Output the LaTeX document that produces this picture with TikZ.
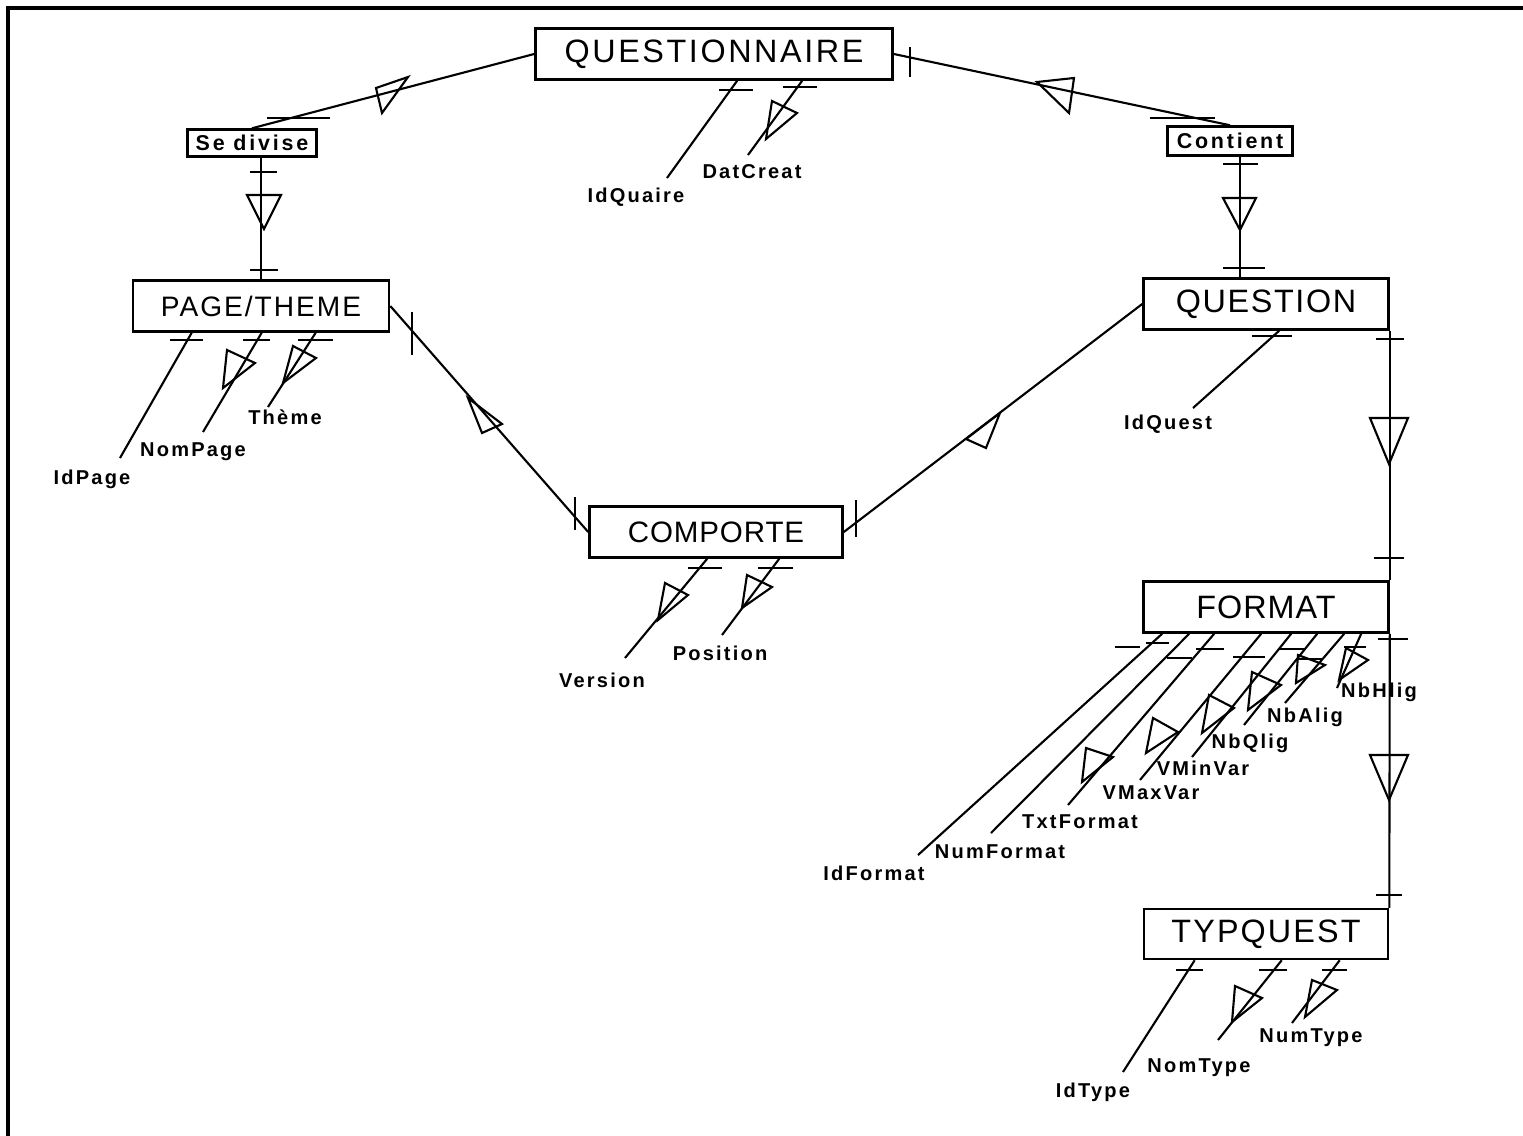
\documentclass[tikz,border=0pt]{standalone}
\usepackage{fontspec}
\setmainfont{Liberation Sans}
\usetikzlibrary{positioning,calc}

\tikzset{
  ent/.style={draw, line width=0.7pt, minimum width=2.45cm, minimum height=0.51cm, inner sep=0pt,
    font=\fontsize{9.2}{10}\selectfont\addfontfeature{LetterSpace=#1}},
  ent/.default=8,
  rel/.style={draw, line width=0.7pt, minimum height=0.27cm, inner sep=0pt,
    font=\bfseries\fontsize{6.1}{7}\selectfont\addfontfeature{LetterSpace=13}},
  att/.style={inner sep=0pt, font=\bfseries\fontsize{5.7}{7}\selectfont\addfontfeature{LetterSpace=11}},
  lnk/.style={line width=0.6pt}
}

\begin{document}
\begin{tikzpicture}[x=0.01cm,y=-0.01cm]
  \path[use as bounding box, fill=white] (0,0) rectangle (1523,1136);
  \draw[line width=1pt] (8,1136) -- (8,8) -- (1523,8);

  % Place nodes
  \node[ent, minimum width=3.57cm] (qre) at (714,54) {QUESTIONNAIRE};
  \node[ent, minimum width=2.56cm, font=\fontsize{8}{9}\selectfont\addfontfeature{LetterSpace=7}] (page) at (261,306) {PAGE/THEME};
  \node[ent=5] (quest) at (1266,304) {QUESTION};
  \node[ent, minimum width=2.53cm, font=\fontsize{8.4}{9}\selectfont\addfontfeature{LetterSpace=3}] (comp) at (716,532) {COMPORTE};
  \node[ent=3] (fmt) at (1266,607) {FORMAT};
  \node[ent=6.5, minimum width=2.44cm, minimum height=0.5cm] (typ) at (1266,934) {TYPQUEST};
  \node[rel, minimum width=1.29cm] (sediv) at (252,143) {Se divise};
  \node[rel, minimum width=1.25cm, minimum height=0.29cm] (cont) at (1230,141) {Contient};

  % Attribute labels
  \node[att] (idquaire) at (636,197) {IdQuaire};
  \node[att] (datcreat) at (752,172) {DatCreat};
  \node[att] (idpage) at (92,479) {IdPage};
  \node[att] (nompage) at (193,452) {NomPage};
  \node[att] (theme) at (285,417) {Thème};
  \node[att] (idquest) at (1168,424) {IdQuest};
  \node[att] (version) at (602,680) {Version};
  \node[att] (position) at (720,653) {Position};
  \node[att] (idformat) at (874,873) {IdFormat};
  \node[att] (numformat) at (1000,852) {NumFormat};
  \node[att] (txtformat) at (1080,822) {TxtFormat};
  \node[att] (vmaxvar) at (1151,793) {VMaxVar};
  \node[att] (vminvar) at (1203,768) {VMinVar};
  \node[att] (nbqlig) at (1250,743) {NbQlig};
  \node[att] (nbalig) at (1305,717) {NbAlig};
  \node[att] (nbhlig) at (1379,692) {NbHlig};
  \node[att] (idtype) at (1093,1092) {IdType};
  \node[att] (nomtype) at (1199,1068) {NomType};
  \node[att] (numtype) at (1311,1038) {NumType};

  % QUESTIONNAIRE -- Se divise -- PAGE/THEME
  \draw[lnk] (qre.west) -- (sediv.north);
  \draw[lnk] (267,118) -- (330,118);
  \draw[lnk] (376,88) -- (408,77) -- (382,113) -- cycle;
  \draw[lnk] (sediv.south -| page.north) -- (page.north);
  \draw[lnk] (250,172) -- (277,172);
  \draw[lnk] (247,195) -- (281,195) -- (264,229) -- cycle;
  \draw[lnk] (250,270) -- (278,270);

  % QUESTIONNAIRE -- Contient -- QUESTION
  \draw[lnk] (qre.east) -- (cont.north);
  \draw[lnk] (910,47) -- (910,77);
  \draw[lnk] (1037,82) -- (1074,78) -- (1069,113) -- cycle;
  \draw[lnk] (1150,118) -- (1215,118);
  \draw[lnk] (cont.south -| 1240,0) -- (quest.north -| 1240,0);
  \draw[lnk] (1223,164) -- (1258,164);
  \draw[lnk] (1223,198) -- (1256,198) -- (1240,230) -- cycle;
  \draw[lnk] (1223,268) -- (1265,268);

  % PAGE/THEME -- COMPORTE -- QUESTION
  \draw[lnk] (page.east) -- (comp.west);
  \draw[lnk] (412,312) -- (412,355);
  \draw[lnk] (468,398) -- (502,424) -- (482,433) -- cycle;
  \draw[lnk] (575,497) -- (575,530);
  \draw[lnk] (comp.east) -- (quest.west);
  \draw[lnk] (856,500) -- (856,537);
  \draw[lnk] (1000,413) -- (966,439) -- (986,448) -- cycle;

  % QUESTION -- FORMAT -- TYPQUEST
  \draw[lnk] (quest.south east) -- (fmt.north east);
  \draw[lnk] (1376,339) -- (1404,339);
  \draw[lnk] (1370,418) -- (1408,418) -- (1389,464) -- cycle;
  \draw[lnk] (1374,558) -- (1404,558);
  \draw[lnk] (fmt.south east) -- (typ.north east);
  \draw[lnk] (1378,639) -- (1408,639);
  \draw[lnk] (1370,755) -- (1408,755) -- (1389,800) -- cycle;
  \draw[lnk] (1376,895) -- (1402,895);

  % Attributes of QUESTIONNAIRE
  \draw[lnk] ([shift={(203,0)}]qre.south west) -- ([shift={(31,-19)}]idquaire.center);
  \draw[lnk] (719,90) -- (753,90);
  \draw[lnk] ([shift={(268,0)}]qre.south west) -- ([shift={(-4,-17)}]datcreat.center);
  \draw[lnk] (783,87) -- (817,87);
  \draw[lnk] (772,101) -- (797,113) -- (766,139) -- cycle;

  % Attributes of PAGE/THEME
  \draw[lnk] ([shift={(60,0)}]page.south west) -- ([shift={(28,-21)}]idpage.center);
  \draw[lnk] (170,340) -- (203,340);
  \draw[lnk] ([shift={(130,0)}]page.south west) -- ([shift={(10,-20)}]nompage.center);
  \draw[lnk] (243,340) -- (270,340);
  \draw[lnk] (227,350) -- (255,363) -- (223,388) -- cycle;
  \draw[lnk] ([shift={(184,0)}]page.south west) -- ([shift={(-17,-10)}]theme.center);
  \draw[lnk] (298,340) -- (333,340);
  \draw[lnk] (293,346) -- (316,358) -- (283,383) -- cycle;

  % Attributes of QUESTION
  \draw[lnk] ([shift={(137,0)}]quest.south west) -- ([shift={(25,-16)}]idquest.center);
  \draw[lnk] (1252,336) -- (1292,336);

  % Attributes of COMPORTE
  \draw[lnk] ([shift={(119,0)}]comp.south west) -- ([shift={(23,-22)}]version.center);
  \draw[lnk] (688,568) -- (722,568);
  \draw[lnk] (665,583) -- (688,595) -- (658,620) -- cycle;
  \draw[lnk] ([shift={(191,0)}]comp.south west) -- ([shift={(2,-18)}]position.center);
  \draw[lnk] (758,568) -- (793,568);
  \draw[lnk] (747,575) -- (772,587) -- (742,608) -- cycle;

  % Attributes of FORMAT
  \draw[lnk] ([shift={(20,0)}]fmt.south west) -- ([shift={(44,-18)}]idformat.center);
  \draw[lnk] (1115,647) -- (1140,647);
  \draw[lnk] ([shift={(47,0)}]fmt.south west) -- ([shift={(-9,-19)}]numformat.center);
  \draw[lnk] (1146,643) -- (1169,643);
  \draw[lnk] ([shift={(72,0)}]fmt.south west) -- ([shift={(-12,-17)}]txtformat.center);
  \draw[lnk] (1167,658) -- (1192,658);
  \draw[lnk] (1086,748) -- (1113,757) -- (1082,782) -- cycle;
  \draw[lnk] ([shift={(119,0)}]fmt.south west) -- ([shift={(-11,-13)}]vmaxvar.center);
  \draw[lnk] (1196,649) -- (1224,649);
  \draw[lnk] (1153,718) -- (1178,732) -- (1146,753) -- cycle;
  \draw[lnk] ([shift={(149,0)}]fmt.south west) -- ([shift={(-11,-11)}]vminvar.center);
  \draw[lnk] (1233,657) -- (1265,657);
  \draw[lnk] (1209,695) -- (1234,708) -- (1202,733) -- cycle;
  \draw[lnk] ([shift={(175,0)}]fmt.south west) -- ([shift={(-6,-18)}]nbqlig.center);
  \draw[lnk] (1279,649) -- (1304,649);
  \draw[lnk] (1252,672) -- (1281,685) -- (1248,710) -- cycle;
  \draw[lnk] ([shift={(202,0)}]fmt.south west) -- ([shift={(-20,-14)}]nbalig.center);
  \draw[lnk] (1298,659) -- (1323,659);
  \draw[lnk] (1298,655) -- (1325,665) -- (1296,683) -- cycle;
  \draw[lnk] ([shift={(219,0)}]fmt.south west) -- ([shift={(-42,-4)}]nbhlig.center);
  \draw[lnk] (1344,647) -- (1366,647);
  \draw[lnk] (1346,648) -- (1368,660) -- (1339,680) -- cycle;

  % Attributes of TYPQUEST
  \draw[lnk] ([shift={(52,0)}]typ.south west) -- ([shift={(30,-20)}]idtype.center);
  \draw[lnk] (1176,970) -- (1203,970);
  \draw[lnk] ([shift={(139,0)}]typ.south west) -- ([shift={(19,-28)}]nomtype.center);
  \draw[lnk] (1259,970) -- (1287,970);
  \draw[lnk] (1235,986) -- (1262,998) -- (1232,1022) -- cycle;
  \draw[lnk] ([shift={(197,0)}]typ.south west) -- ([shift={(-19,-15)}]numtype.center);
  \draw[lnk] (1322,970) -- (1347,970);
  \draw[lnk] (1312,980) -- (1337,990) -- (1305,1017) -- cycle;
\end{tikzpicture}
\end{document}
